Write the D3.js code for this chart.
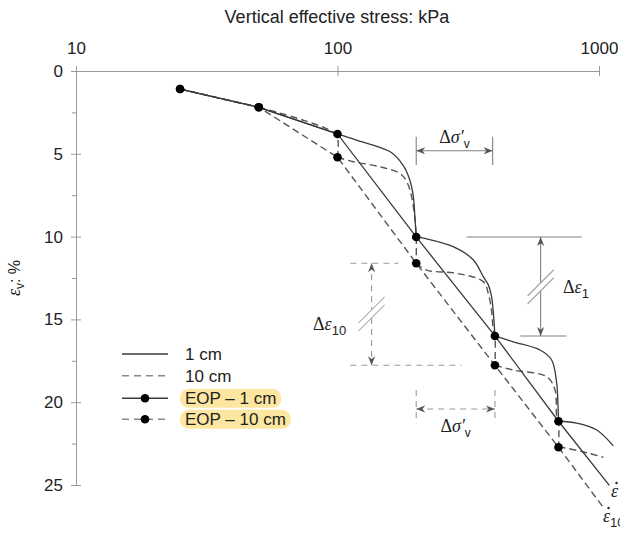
<!DOCTYPE html>
<html lang="en"><head>
<meta charset="utf-8">
<title>Compression curves - sample thickness</title>
<script src="https://d3js.org/d3.v7.min.js"></script>
<style>
  body { margin: 0; background: #fff; }
  .axis path, .axis line { fill: none; stroke: #9a9a9a; stroke-width: 1; }
  .axis text { font-family: "Liberation Sans", Arial, sans-serif; font-size: 17px; fill: #222; }
  .lbl { font-family: "Liberation Sans", Arial, sans-serif; fill: #222; }
  .greek { font-family: "Liberation Serif", "DejaVu Serif", serif; fill: #222; }
</style>
<script>
const width = 620;
const height = 533;

// axis ticks
const xTicks = [10, 100, 1000];
const yTicks = [0, 5, 10, 15, 20, 25];
const yMinorTicks = [2.5, 7.5, 12.5, 17.5, 22.5];

// end-of-primary points: stress (kPa) and strain (%) for each thickness
const eopStress = [25, 50, 100, 200, 400, 700];
const eopStrain1cm = [1.09, 2.19, 3.80, 10.02, 16.0, 21.15];
const eopStrain10cm = [1.09, 2.19, 5.21, 11.61, 17.77, 22.72];

// constant strain-rate line running on past the last EOP point
const rateEnd1cm = [1095, 25.02];
const rateEnd10cm = [1045, 26.41];

// continuous compression curve, one array per load step [stress, strain]
const curve1cm = [
  [[25, 1.09], [50, 2.19]],
  [[50, 2.19], [100, 3.80]],
  [[100, 3.80], [118, 4.17], [159, 4.88], [178, 5.68], [189, 6.58], [195, 7.59], [198, 9.0], [200, 10.02]],
  [[200, 10.02], [216, 10.11], [277, 10.61], [331, 11.41], [361, 12.42], [377, 12.9], [388, 13.6], [394, 14.5], [400, 16.0]],
  [[400, 16.0], [470, 16.35], [595, 16.85], [659, 17.45], [689, 18.86], [697, 20.2], [700, 21.15]],
  [[700, 21.15], [822, 21.27], [980, 21.68], [1134, 22.64]]
];
const curve10cm = [
  [[25, 1.09], [50, 2.19]],
  [[50, 2.19], [75, 3.0], [96, 3.68], [100, 4.0], [100, 5.21]],
  [[100, 5.21], [115, 5.48], [145, 5.78], [173, 6.18], [184, 6.68], [192, 7.59], [198, 9.0], [200, 10.02], [200, 11.61]],
  [[200, 11.61], [219, 12.02], [286, 12.22], [361, 12.72], [377, 13.42], [388, 14.43], [394, 15.6], [400, 16.0], [400, 17.77]],
  [[400, 17.77], [470, 18.06], [631, 18.46], [679, 19.26], [689, 20.88], [700, 21.15], [700, 22.72]],
  [[700, 22.72], [752, 22.78], [897, 23.05], [1039, 23.33]]
];

const legendItems = ["1 cm", "10 cm", "EOP \u2013 1 cm", "EOP \u2013 10 cm"];

const lineColor = "#3a3a3a";
const dashColor = "#555";
const noteColor = "#808080";

const x = d3.scaleLog().domain([10, 1000]).range([76, 599]);
const y = d3.scaleLinear().domain([0, 25]).range([71, 485]);

const curveLine = d3.line()
  .x(d => x(d[0]))
  .y(d => y(d[1]))
  .curve(d3.curveCatmullRom.alpha(0.5));
const straight = d3.line().x(d => x(d[0])).y(d => y(d[1]));

const drawAxes = (svg) => {
  const xAxis = d3.axisTop(x).tickValues(xTicks).tickFormat(d3.format("d"))
    .tickSize(5).tickSizeOuter(0).tickPadding(12);
  const gx = svg.append("g").attr("class", "axis")
    .attr("transform", "translate(0," + y(0) + ")")
    .call(xAxis);
  gx.selectAll(".tick line").attr("y1", 5);
  gx.selectAll(".tick text").attr("dy", "0em");

  const yAxis = d3.axisLeft(y).tickValues(yTicks).tickSize(5).tickSizeOuter(0).tickPadding(8);
  const gy = svg.append("g").attr("class", "axis")
    .attr("transform", "translate(" + x(10) + ",0)")
    .call(yAxis);
  gy.selectAll(".tick line").attr("x1", 5);

  svg.append("g").attr("class", "axis")
    .attr("transform", "translate(" + x(10) + ",0)")
    .call(d3.axisLeft(y).tickValues(yMinorTicks).tickFormat("").tickSize(4))
    .select(".domain").remove();

  svg.append("text").attr("class", "lbl")
    .attr("x", 337).attr("y", 23)
    .attr("text-anchor", "middle").attr("font-size", 18)
    .text("Vertical effective stress: kPa");

  const yl = svg.append("text")
    .attr("transform", "translate(20,278) rotate(-90)")
    .attr("text-anchor", "middle");
  yl.append("tspan").attr("class", "greek").attr("font-style", "italic").attr("font-size", 18).text("\u03b5");
  yl.append("tspan").attr("class", "lbl").attr("font-size", 12).attr("dy", 4).text("v");
  yl.append("tspan").attr("class", "lbl").attr("font-size", 16).attr("dy", -4).text(": %");
};

const drawCurves = (svg) => {
  svg.append("g").selectAll("path").data(curve10cm).enter().append("path")
    .attr("d", curveLine).attr("fill", "none")
    .attr("stroke", dashColor).attr("stroke-width", 1.4).attr("stroke-dasharray", "7,4");
  svg.append("g").selectAll("path").data(curve1cm).enter().append("path")
    .attr("d", curveLine).attr("fill", "none")
    .attr("stroke", lineColor).attr("stroke-width", 1.3);
};

const drawEop = (svg) => {
  const eop1 = eopStress.map((s, i) => [s, eopStrain1cm[i]]);
  const eop10 = eopStress.map((s, i) => [s, eopStrain10cm[i]]);

  svg.append("path").attr("d", straight(eop10.concat([rateEnd10cm])))
    .attr("fill", "none").attr("stroke", dashColor).attr("stroke-width", 1.4)
    .attr("stroke-dasharray", "7,4");
  svg.append("path").attr("d", straight(eop1.concat([rateEnd1cm])))
    .attr("fill", "none").attr("stroke", lineColor).attr("stroke-width", 1.3);

  svg.append("g").selectAll("circle").data(eop10.concat(eop1)).enter().append("circle")
    .attr("cx", d => x(d[0])).attr("cy", d => y(d[1])).attr("r", 4.3)
    .attr("fill", "#000");
};

// Δσ'v label: upright delta, italic sigma, prime, subscript v
const sigmaLabel = (svg, cx, by) => {
  const t = svg.append("text").attr("x", cx).attr("y", by).attr("text-anchor", "middle");
  t.append("tspan").attr("class", "greek").attr("font-size", 18).text("\u0394");
  t.append("tspan").attr("class", "greek").attr("font-size", 18).attr("font-style", "italic").text("\u03c3\u2032");
  t.append("tspan").attr("class", "lbl").attr("font-size", 12).attr("dy", 5).text("v");
};

const epsLabel = (svg, lx, by, sub) => {
  const t = svg.append("text").attr("x", lx).attr("y", by);
  t.append("tspan").attr("class", "greek").attr("font-size", 18).text("\u0394");
  t.append("tspan").attr("class", "greek").attr("font-size", 18).attr("font-style", "italic").text("\u03b5");
  t.append("tspan").attr("class", "lbl").attr("font-size", 13).attr("dy", 5).text(sub);
};

// strain-rate symbol: italic epsilon with a dot drawn above it
const rateLabel = (svg, lx, by, sub) => {
  const t = svg.append("text").attr("x", lx).attr("y", by);
  t.append("tspan").attr("class", "greek").attr("font-size", 18).attr("font-style", "italic").text("\u03b5");
  if (sub) t.append("tspan").attr("class", "lbl").attr("font-size", 13).attr("dy", 5).text(sub);
  svg.append("circle").attr("cx", lx + 5.5).attr("cy", by - 14).attr("r", 1.2).attr("fill", "#222");
};

const seg = (g, x1, y1, x2, y2, dashed) => {
  const l = g.append("line").attr("x1", x1).attr("y1", y1).attr("x2", x2).attr("y2", y2)
    .attr("stroke", dashed ? "#999" : noteColor).attr("stroke-width", 1.1);
  if (dashed) l.attr("stroke-dasharray", "6,5");
  return l;
};

// bracket with a broken arrow and a double-slash mark in the middle
const strainBracket = (g, xs, e0, e1, eMid, dashed) => {
  const yc = y(eMid);
  seg(g, xs, y(e0), xs, yc - 4, dashed).attr("marker-start", "url(#arrow)");
  seg(g, xs, yc + 4, xs, y(e1), dashed).attr("marker-end", "url(#arrow)");
  [-4, 4].forEach(o => {
    g.append("line").attr("x1", xs - 13).attr("y1", yc + o + 13)
      .attr("x2", xs + 13).attr("y2", yc + o - 13)
      .attr("stroke", dashed ? "#b0b0b0" : "#999").attr("stroke-width", 1.2);
  });
};

const drawNotes = (svg) => {
  const g = svg.append("g");

  // stress increment, upper
  seg(g, x(200), y(3.97), x(200), y(5.68));
  seg(g, x(392), y(3.97), x(392), y(5.68));
  seg(g, x(200), y(4.82), x(392), y(4.82))
    .attr("marker-start", "url(#arrow)").attr("marker-end", "url(#arrow)");
  sigmaLabel(svg, x(280), y(4.82) - 8);

  // stress increment, lower
  seg(g, x(200), y(19.26), x(200), y(21.27), true);
  seg(g, x(400), y(19.26), x(400), y(21.27), true);
  seg(g, x(200), y(20.41), x(400), y(20.41), true)
    .attr("marker-start", "url(#arrow)").attr("marker-end", "url(#arrow)");
  sigmaLabel(svg, x(283), y(20.41) + 23);

  // strain increment, 1 cm
  seg(g, x(312), y(10.02), x(860), y(10.02));
  seg(g, x(500), y(16.0), x(750), y(16.0));
  strainBracket(g, x(598), 10.02, 16.0, 13.04, false);
  epsLabel(svg, 563, 293, "1");

  // strain increment, 10 cm
  seg(g, x(112), y(11.61), x(171), y(11.61), true);
  seg(g, x(112), y(17.77), x(298), y(17.77), true);
  strainBracket(g, x(135), 11.61, 17.77, 14.67, true);
  epsLabel(svg, 313, 330, "10");

  rateLabel(svg, 611, 497, "");
  rateLabel(svg, 603, 522, "10");
};

const drawLegend = (svg) => {
  const rows = [354, 375.7, 398.3, 419.3];
  const g = svg.append("g");
  legendItems.forEach((name, i) => {
    const ly = rows[i];
    const dashed = i % 2 === 1;
    g.append("line").attr("x1", 122).attr("x2", 168).attr("y1", ly).attr("y2", ly)
      .attr("stroke", dashed ? "#888" : lineColor).attr("stroke-width", 1.4)
      .attr("stroke-dasharray", dashed ? "7,5" : null);
    if (i >= 2) {
      g.append("circle").attr("cx", 145).attr("cy", ly).attr("r", 4.3).attr("fill", "#000");
    }
    const t = g.append("text").attr("class", "lbl").attr("x", 185).attr("y", ly + 6)
      .attr("font-size", 17).text(name);
    if (i >= 2) {
      const bb = t.node().getBBox();
      g.insert("rect", "text").attr("x", bb.x - 5).attr("y", ly - 9.5)
        .attr("width", bb.width + 10).attr("height", 19).attr("rx", 9)
        .attr("fill", "#fce6a0");
    }
  });
};
</script>
</head>
<body>
<script>
const svg = d3.select("body").append("svg")
  .attr("width", width).attr("height", height);

svg.append("defs").append("marker")
  .attr("id", "arrow").attr("viewBox", "0 -5 10 10")
  .attr("refX", 10).attr("refY", 0)
  .attr("markerWidth", 9).attr("markerHeight", 9)
  .attr("markerUnits", "userSpaceOnUse")
  .attr("orient", "auto-start-reverse")
  .append("path").attr("d", "M0,-4L10,0L0,4L3,0Z").attr("fill", "#555");

drawAxes(svg);
drawNotes(svg);
drawCurves(svg);
drawEop(svg);
drawLegend(svg);
</script>
</body></html>
